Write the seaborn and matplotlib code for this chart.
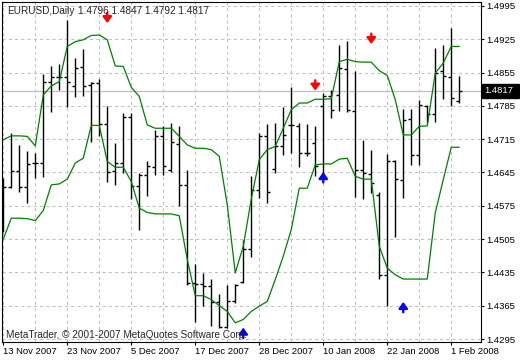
import numpy as np
import pandas as pd
import matplotlib
matplotlib.use('Agg')
import matplotlib.pyplot as plt
import matplotlib.transforms as mtransforms
from matplotlib.patches import Rectangle
import seaborn as sns

# EURUSD daily bars, 13 Nov 2007 .. 4 Feb 2008
opens = [1.4626, 1.4614, 1.4649, 1.4614, 1.4666, 1.4665, 1.4836, 1.4845, 1.4845, 1.4827,
         1.4866, 1.4829, 1.4833, 1.4747, 1.4649, 1.4666, 1.4762, 1.4617, 1.4640, 1.4656,
         1.4721, 1.4651, 1.4705, 1.4619, 1.4413, 1.4411, 1.4407, 1.4372, 1.4320, 1.4374,
         1.4414, 1.4484, 1.4609, 1.4722, 1.4652, 1.4700, 1.4745, 1.4743, 1.4686, 1.4708,
         1.4785, 1.4805, 1.4808, 1.4863, 1.4775, 1.4651, 1.4642, 1.4598, 1.4430, 1.4670,
         1.4630, 1.4757, 1.4682, 1.4784, 1.4768, 1.4859, 1.4845, 1.4796]
highs = [1.4633, 1.4728, 1.4703, 1.4691, 1.4687, 1.4852, 1.4869, 1.4873, 1.4966, 1.4885,
         1.4904, 1.4836, 1.4841, 1.4784, 1.4707, 1.4770, 1.4771, 1.4644, 1.4670, 1.4735,
         1.4742, 1.4749, 1.4742, 1.4651, 1.4453, 1.4434, 1.4421, 1.4390, 1.4409, 1.4411,
         1.4504, 1.4638, 1.4729, 1.4747, 1.4750, 1.4782, 1.4824, 1.4750, 1.4747, 1.4742,
         1.4812, 1.4819, 1.4913, 1.4922, 1.4859, 1.4714, 1.4693, 1.4603, 1.4684, 1.4671,
         1.4778, 1.4778, 1.4798, 1.4786, 1.4906, 1.4913, 1.4948, 1.4847]
lows = [1.4520, 1.4612, 1.4603, 1.4581, 1.4633, 1.4635, 1.4773, 1.4819, 1.4782, 1.4803,
        1.4805, 1.4710, 1.4721, 1.4626, 1.4619, 1.4644, 1.4589, 1.4525, 1.4596, 1.4640,
        1.4640, 1.4647, 1.4575, 1.4409, 1.4330, 1.4365, 1.4323, 1.4318, 1.4318, 1.4371,
        1.4413, 1.4467, 1.4591, 1.4581, 1.4644, 1.4682, 1.4686, 1.4656, 1.4679, 1.4638,
        1.4637, 1.4759, 1.4775, 1.4773, 1.4593, 1.4589, 1.4602, 1.4421, 1.4365, 1.4509,
        1.4591, 1.4660, 1.4661, 1.4750, 1.4752, 1.4800, 1.4785, 1.4792]
closes = [1.4614, 1.4649, 1.4614, 1.4663, 1.4665, 1.4836, 1.4845, 1.4845, 1.4836, 1.4864,
          1.4827, 1.4833, 1.4747, 1.4647, 1.4666, 1.4762, 1.4617, 1.4639, 1.4658, 1.4722,
          1.4658, 1.4710, 1.4619, 1.4413, 1.4411, 1.4407, 1.4372, 1.4320, 1.4374, 1.4409,
          1.4484, 1.4609, 1.4722, 1.4603, 1.4700, 1.4724, 1.4745, 1.4686, 1.4686, 1.4659,
          1.4805, 1.4777, 1.4864, 1.4777, 1.4651, 1.4644, 1.4623, 1.4430, 1.4670, 1.4631,
          1.4756, 1.4682, 1.4787, 1.4768, 1.4855, 1.4848, 1.4801, 1.4817]

# green channel lines
upper_band = [1.4714, 1.4722, 1.4722, 1.4721, 1.4701, 1.4808, 1.4827, 1.4836, 1.4910, 1.4920,
              1.4924, 1.4933, 1.4934, 1.4924, 1.4869, 1.4868, 1.4824, 1.4805, 1.4745, 1.4738,
              1.4738, 1.4738, 1.4721, 1.4703, 1.4696, 1.4696, 1.4693, 1.4679, 1.4577, 1.4434,
              1.4490, 1.4589, 1.4672, 1.4693, 1.4700, 1.4738, 1.4777, 1.4791, 1.4791, 1.4799,
              1.4799, 1.4800, 1.4878, 1.4883, 1.4878, 1.4877, 1.4877, 1.4859, 1.4849, 1.4798,
              1.4724, 1.4724, 1.4742, 1.4743, 1.4854, 1.4875, 1.4910, 1.4910]
lower_band = [1.4505, 1.4549, 1.4549, 1.4548, 1.4544, 1.4565, 1.4619, 1.4621, 1.4631, 1.4665,
              1.4675, 1.4744, 1.4744, 1.4668, 1.4656, 1.4656, 1.4626, 1.4570, 1.4561, 1.4558,
              1.4558, 1.4558, 1.4554, 1.4462, 1.4386, 1.4386, 1.4378, 1.4365, 1.4353, 1.4329,
              1.4336, 1.4353, 1.4364, 1.4374, 1.4420, 1.4469, 1.4525, 1.4612, 1.4612, 1.4661,
              1.4663, 1.4663, 1.4673, 1.4675, 1.4637, 1.4631, 1.4631, 1.4490, 1.4444, 1.4430,
              1.4421, 1.4421, 1.4421, 1.4421, 1.4560, 1.4630, 1.4698, 1.4698]

# arrow signals (bar index, price of arrow tip)
sell_bars = [13, 39, 46]
sell_prices = [1.4959, 1.4817, 1.4915]
buy_bars = [30, 40, 50]
buy_prices = [1.4319, 1.4646, 1.4373]

date_labels = ['13 Nov 2007', '23 Nov 2007', '5 Dec 2007', '17 Dec 2007',
               '28 Dec 2007', '10 Jan 2008', '22 Jan 2008', '1 Feb 2008']
label_bars = [0, 8, 16, 24, 32, 40, 48, 56]
price_ticks = [1.4295, 1.4365, 1.4435, 1.4505, 1.4575, 1.4645,
               1.4715, 1.4785, 1.4855, 1.4925, 1.4995]
last_price = 1.4817

df = pd.DataFrame({'bar': np.arange(len(opens)), 'open': opens, 'high': highs,
                   'low': lows, 'close': closes, 'upper': upper_band, 'lower': lower_band})

sns.set_style('white')
plt.rcParams['font.family'] = ['Liberation Sans', 'DejaVu Sans']
fs = 6.8

fig = plt.figure(figsize=(5.2, 3.6), dpi=100)
ax = fig.add_axes([2 / 520, 18 / 360, 478.7 / 520, 340 / 360])
ax.set_xlim(-0.16, 59.68)
ax.set_ylim(1.42887, 1.50034)

# grid
ax.set_axisbelow(True)
ax.set_xticks(label_bars)
ax.set_xticks(range(0, 58, 4), minor=True)
ax.set_xticklabels(date_labels, ha='left')
ax.grid(which='both', axis='x', color='#c0c0c0', linestyle=(0, (3, 3)), lw=0.75)
ax.yaxis.tick_right()
ax.set_yticks(price_ticks)
ax.set_yticklabels([f'{p:.4f}' for p in price_ticks])
ax.grid(which='major', axis='y', color='#c0c0c0', linestyle=(0, (3, 3)), lw=0.75)

# last price line
ax.axhline(last_price, color='#c0c0c0', lw=0.9, zorder=1)

# OHLC bars
ax.vlines(df['bar'], df['low'], df['high'], color='black', lw=1.0, zorder=3)
ax.hlines(df['open'], df['bar'] - 0.38, df['bar'], color='black', lw=1.0, zorder=3)
ax.hlines(df['close'], df['bar'], df['bar'] + 0.38, color='black', lw=1.0, zorder=3)

# channel lines
sns.lineplot(data=df, x='bar', y='upper', ax=ax, color='#008000', lw=0.9, zorder=4)
sns.lineplot(data=df, x='bar', y='lower', ax=ax, color='#008000', lw=0.9, zorder=4)
ax.set_xlabel('')
ax.set_ylabel('')

# arrows
astyle = '-|>,head_width=0.26,head_length=0.36'
for b, p in zip(sell_bars, sell_prices):
    ax.annotate('', xy=(b, p), xytext=(0, 7.5), textcoords='offset points',
                arrowprops=dict(arrowstyle=astyle, color='#ff0000', lw=1.7,
                                shrinkA=0, shrinkB=0), zorder=5)
for b, p in zip(buy_bars, buy_prices):
    ax.annotate('', xy=(b, p), xytext=(0, -7.5), textcoords='offset points',
                arrowprops=dict(arrowstyle=astyle, color='#0000ff', lw=1.7,
                                shrinkA=0, shrinkB=0), zorder=5)

# axes look
for s in ax.spines.values():
    s.set_color('black')
    s.set_linewidth(0.8)
ax.tick_params(axis='y', which='major', length=2.5, width=0.8, pad=1.5,
               labelsize=fs, colors='black', right=True, left=False)
ax.tick_params(axis='x', which='major', length=2.5, width=0.8, pad=1,
               labelsize=fs, colors='black', bottom=True)
ax.tick_params(axis='x', which='minor', length=0)

# last price box on the right axis
trans = mtransforms.blended_transform_factory(ax.transAxes, ax.transData)
ax.add_patch(Rectangle((1.003, last_price - 0.00147), 0.078, 0.00294, transform=trans,
                       facecolor='black', edgecolor='black', clip_on=False, zorder=6))
ax.text(1.0085, last_price, f'{last_price:.4f}', transform=trans, color='white',
        fontsize=fs, va='center', ha='left', clip_on=False, zorder=7)

# header and footer text
hfs = 7.2
fig.text(7 / 520, 1 - 11 / 360, 'EURUSD,Daily', fontsize=hfs, va='center', ha='left')
fig.text(78 / 520, 1 - 11 / 360, '1.4796 1.4847 1.4792 1.4817', fontsize=hfs,
         va='center', ha='left')
fig.text(6 / 520, 1 - 335 / 360, 'MetaTrader, \u00a9 2001-2007 MetaQuotes Software Corp.',
         fontsize=hfs, va='center', ha='left')

fig.savefig('out.png', dpi=100)
